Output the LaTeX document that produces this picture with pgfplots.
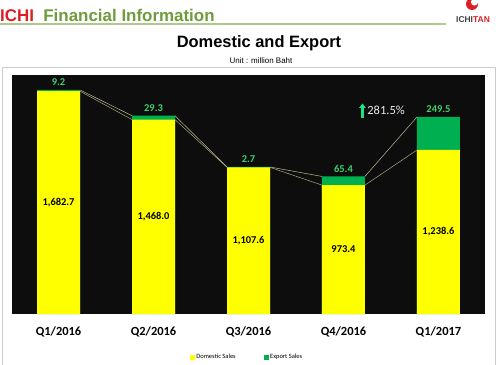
\documentclass[border=0pt]{standalone}
\usepackage{pgfplots}
\pgfplotsset{compat=1.18}
\usepackage{pgfplotstable}
\usetikzlibrary{arrows.meta}
\usepackage{fontspec}
\setmainfont{Carlito}
\newfontfamily\arial{Liberation Sans}
\definecolor{ichired}{RGB}{220,30,35}
\definecolor{ichigreen}{RGB}{110,155,60}
\definecolor{hline}{RGB}{175,200,140}
\definecolor{barY}{RGB}{255,255,0}
\definecolor{barG}{RGB}{0,176,80}
\definecolor{lblG}{RGB}{60,210,110}
\definecolor{arrG}{RGB}{30,225,135}
\definecolor{bg}{RGB}{13,13,13}
\definecolor{sline}{RGB}{175,165,125}

\pgfplotstableread{
x D T Dm E Dl
0 1682.7 1691.9 841.4 9.2 1,682.7
1 1468.0 1497.3 734.0 29.3 1,468.0
2 1107.6 1110.3 553.8 2.7 1,107.6
3 973.4 1038.8 486.7 65.4 973.4
4 1238.6 1488.1 619.3 249.5 1,238.6
}\data

\begin{document}
\begin{tikzpicture}[x=1bp,y=1bp]
\path[use as bounding box] (0,0) rectangle (500,364);
% header
\node[anchor=base west, inner sep=0pt] at (0,343) {\arial\bfseries\fontsize{17}{20}\selectfont\textcolor{ichired}{ICHI}\hspace{0.55em}\textcolor{ichigreen}{Financial Information}};
\draw[hline, line width=1.5bp] (0,340) -- (446,340);
% logo
\fill[ichired] (472,360) circle (6);
\fill[white] (474.5,362) circle (3.6);
\node[anchor=base, inner sep=0pt] at (473,342) {\arial\bfseries\fontsize{8.5}{10}\selectfont\textcolor{black!75}{ICHI}\textcolor{ichired}{TAN}};
% titles
\node[anchor=base, inner sep=0pt] at (259,317) {\arial\bfseries\fontsize{16.5}{19}\selectfont Domestic and Export};
\node[anchor=base, inner sep=0pt] at (261,300.5) {\arial\fontsize{8}{9}\selectfont Unit : million Baht};
% frame
\draw[black!20, line width=0.8bp] (2,-2) -- (2,297) -- (495,297) -- (495,-2);

\begin{axis}[
  at={(12bp,50bp)}, anchor=south west,
  scale only axis, width=473bp, height=239bp,
  xmin=-0.49, xmax=4.49, ymin=0, ymax=1805,
  axis background/.style={fill=bg},
  axis line style={draw=none},
  tick style={draw=none},
  ytick=\empty,
  xtick={0,1,2,3,4},
  xticklabels={Q1/2016,Q2/2016,Q3/2016,Q4/2016,Q1/2017},
  xticklabel style={font=\fontsize{12.5}{14}\selectfont\bfseries, yshift=-9bp},
  clip=false,
  legend style={at={(0.497,-0.18)}, anchor=center, draw=none, fill=none,
    font=\fontsize{6.5}{7.5}\selectfont, legend columns=2,
    /tikz/every even column/.append style={column sep=26bp}},
  legend cell align=left,
]
\addplot[ybar, bar width=43bp, bar shift=0pt, fill=barG, draw=none,
  nodes near coords, point meta=explicit symbolic,
  every node near coord/.append style={font=\fontsize{10.5}{12}\selectfont\bfseries, text=lblG, yshift=0.5bp},
  forget plot] table[x=x, y=T, meta=E] {\data};
\addplot[ybar, bar width=43bp, bar shift=0pt, fill=barY, draw=none, forget plot]
  table[x=x, y=D] {\data};
\addplot[draw=none, mark=none, nodes near coords, point meta=explicit symbolic,
  nodes near coords align=center,
  every node near coord/.append style={font=\fontsize{10.5}{12}\selectfont\bfseries, text=black, anchor=center},
  forget plot] table[x=x, y=Dm, meta=Dl] {\data};
% series lines
\addplot[sline, line width=0.5bp, unbounded coords=jump, forget plot] coordinates {
  (0.226,1682.7) (0.774,1468.0) (1,nan)
  (1.226,1468.0) (1.774,1107.6) (2,nan)
  (2.226,1107.6) (2.774,973.4) (3,nan)
  (3.226,973.4) (3.774,1238.6)};
\addplot[sline!80!white, line width=0.5bp, unbounded coords=jump, forget plot] coordinates {
  (0.226,1691.9) (0.774,1497.3) (1,nan)
  (1.226,1497.3) (1.774,1110.3) (2,nan)
  (2.226,1110.3) (2.774,1038.8) (3,nan)
  (3.226,1038.8) (3.774,1488.1)};
% annotation
\draw[-{Triangle[width=6.5bp,length=4.5bp]}, line width=2.8bp, arrG] (axis cs:3.2,1478) -- (axis cs:3.2,1590);
\node[anchor=west, inner sep=0pt, text=black!8, font=\fontsize{12.5}{14}\selectfont] at (axis cs:3.25,1535) {281.5\%};
% legend
\addlegendimage{legend image code/.code={\fill[barY] (0bp,-2bp) rectangle (4bp,2bp);}}
\addlegendentry{Domestic Sales}
\addlegendimage{legend image code/.code={\fill[barG] (0bp,-2bp) rectangle (4bp,2bp);}}
\addlegendentry{Export Sales}
\end{axis}
\end{tikzpicture}
\end{document}
